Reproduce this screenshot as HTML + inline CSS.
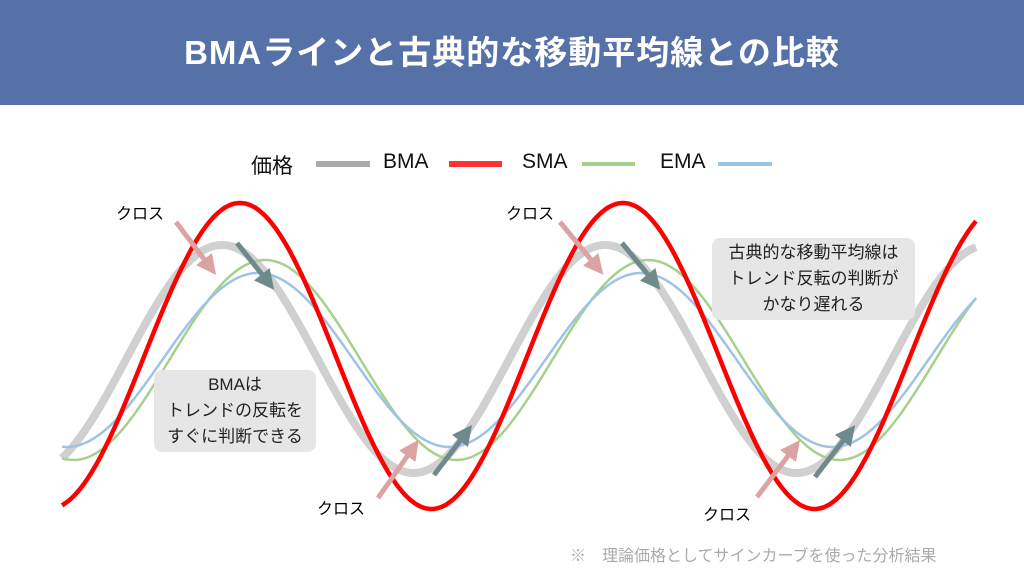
<!DOCTYPE html>
<html><head><meta charset="utf-8">
<style>
body{margin:0;width:1024px;height:576px;overflow:hidden;background:#fff;font-family:"Liberation Sans","Noto Sans CJK JP",sans-serif;position:relative}
.hd{position:absolute;left:0;top:0;width:1024px;height:105px;background:#5670a8;color:#fff;font-weight:bold;font-size:33px;text-align:center;line-height:105px;letter-spacing:1px}
.t{position:absolute;white-space:nowrap}
.box{position:absolute;background:#e6e6e6;border-radius:8px;text-align:center;font-size:17px;line-height:26px;color:#222}
</style></head><body>
<div class="hd">BMAラインと古典的な移動平均線との比較</div>
<svg width="1024" height="576" style="position:absolute;left:0;top:0">
<g stroke-linecap="butt">
<line x1="316" y1="164" x2="370" y2="164" stroke="#aaa" stroke-width="6"/>
<line x1="449" y1="164" x2="502" y2="164" stroke="#f33" stroke-width="6"/>
<line x1="582" y1="164" x2="635" y2="164" stroke="#a8d08d" stroke-width="4"/>
<line x1="718" y1="164" x2="772" y2="164" stroke="#9dc3e6" stroke-width="4"/>
</g>
<g id="curves" fill="none"></g>
<defs>
<marker id="mp" markerWidth="4" markerHeight="4" refX="2" refY="2" orient="auto"><path d="M0,0L4,2L0,4z" fill="#dba3a3"/></marker>
<marker id="md" markerWidth="4" markerHeight="4" refX="2" refY="2" orient="auto"><path d="M0,0L4,2L0,4z" fill="#6e8a8c"/></marker>
</defs>
<g stroke-width="5">
<line x1="176" y1="222" x2="210" y2="267" stroke="#dba3a3" marker-end="url(#mp)"/>
<line x1="560" y1="222" x2="597" y2="267" stroke="#dba3a3" marker-end="url(#mp)"/>
<line x1="378" y1="498" x2="413" y2="448" stroke="#dba3a3" marker-end="url(#mp)"/>
<line x1="757" y1="497" x2="794" y2="448" stroke="#dba3a3" marker-end="url(#mp)"/>
<line x1="237" y1="243" x2="268" y2="282" stroke="#6e8a8c" marker-end="url(#md)"/>
<line x1="622" y1="243" x2="654" y2="282" stroke="#6e8a8c" marker-end="url(#md)"/>
<line x1="434" y1="475" x2="466" y2="433" stroke="#6e8a8c" marker-end="url(#md)"/>
<line x1="815" y1="477" x2="849" y2="433" stroke="#6e8a8c" marker-end="url(#md)"/>
</g>
</svg>
<div class="t" style="left:251px;top:150px;font-size:21px;color:#111">価格</div>
<div class="t" style="left:383px;top:150px;font-size:21px;color:#111">BMA</div>
<div class="t" style="left:522px;top:150px;font-size:21px;color:#111">SMA</div>
<div class="t" style="left:660px;top:150px;font-size:21px;color:#111">EMA</div>
<div class="t" style="left:116px;top:200px;font-size:16px">クロス</div>
<div class="t" style="left:506px;top:200px;font-size:16px">クロス</div>
<div class="t" style="left:317px;top:495px;font-size:16px">クロス</div>
<div class="t" style="left:703px;top:501px;font-size:16px">クロス</div>
<div class="box" style="left:154px;top:370px;width:162px;padding:2px 0">BMAは<br>トレンドの反転を<br>すぐに判断できる</div>
<div class="box" style="left:712px;top:238px;width:203px;padding:2px 0">古典的な移動平均線は<br>トレンド反転の判断が<br>かなり遅れる</div>
<div class="t" style="left:570px;top:542px;font-size:16px;color:#aaa">※　理論価格としてサインカーブを使った分析結果</div>
<script>
var P=383,g=document.getElementById('curves');
function add(c,a,px,col,w){var d='';for(var x=62;x<=976;x+=2){var y=c-a*Math.cos(2*Math.PI*(x-px)/P);d+=(x==62?'M':'L')+x+','+y.toFixed(1);}
var p=document.createElementNS('http://www.w3.org/2000/svg','path');p.setAttribute('d',d);p.setAttribute('stroke',col);p.setAttribute('stroke-width',w);p.setAttribute('fill','none');g.appendChild(p);}
add(359,114,222,'#d0d0d0',8);
add(360,100,265,'#a8d08d',2.5);
add(360,87,258,'#9dc3e6',2.5);
add(356,153,240,'#f00',4.5);
</script>
</body></html>
